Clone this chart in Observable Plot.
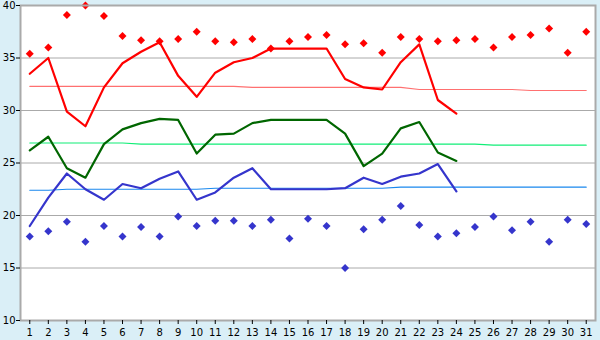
<!DOCTYPE html>
<html>
<head>
<meta charset="utf-8">
<script src="https://cdn.jsdelivr.net/npm/d3@7"></script>
<script src="https://cdn.jsdelivr.net/npm/@observablehq/plot@0.6"></script>
<style>
  html, body { margin: 0; padding: 0; background: #daeff7; }
  #chart svg { display: block; }
</style>
</head>
<body>
<div id="chart"></div>
<script>
const days = d3.range(1, 32);
const maxT = [33.5, 35.0, 29.9, 28.5, 32.2, 34.5, 35.6, 36.5, 33.3, 31.3, 33.6, 34.6, 35.0, 35.9, 35.9, 35.9, 35.9, 33.0, 32.2, 32.0, 34.6, 36.3, 31.0, 29.7];
const avgT = [26.2, 27.5, 24.5, 23.6, 26.8, 28.2, 28.8, 29.2, 29.1, 25.9, 27.7, 27.8, 28.8, 29.1, 29.1, 29.1, 29.1, 27.8, 24.7, 25.9, 28.3, 28.9, 26.0, 25.2];
const minT = [19.0, 21.7, 24.0, 22.5, 21.5, 23.0, 22.6, 23.5, 24.2, 21.5, 22.2, 23.6, 24.5, 22.5, 22.5, 22.5, 22.5, 22.6, 23.6, 23.0, 23.7, 24.0, 24.9, 22.3];
const recMax = [35.4, 36.0, 39.1, 40.0, 39.0, 37.1, 36.7, 36.6, 36.8, 37.5, 36.6, 36.5, 36.8, 35.9, 36.6, 37.0, 37.2, 36.3, 36.4, 35.5, 37.0, 36.8, 36.6, 36.7, 36.8, 36.0, 37.0, 37.2, 37.8, 35.5, 37.5];
const recMin = [18.0, 18.5, 19.4, 17.5, 19.0, 18.0, 18.9, 18.0, 19.9, 19.0, 19.5, 19.5, 19.0, 19.6, 17.8, 19.7, 19.0, 15.0, 18.7, 19.6, 20.9, 19.1, 18.0, 18.3, 18.9, 19.9, 18.6, 19.4, 17.5, 19.6, 19.2];
const normMax = [32.3, 32.3, 32.3, 32.3, 32.3, 32.3, 32.3, 32.3, 32.3, 32.3, 32.3, 32.3, 32.2, 32.2, 32.2, 32.2, 32.2, 32.2, 32.2, 32.2, 32.2, 32.0, 32.0, 32.0, 32.0, 32.0, 32.0, 31.9, 31.9, 31.9, 31.9];
const normAvg = [26.9, 26.9, 26.9, 26.9, 26.9, 26.9, 26.8, 26.8, 26.8, 26.8, 26.8, 26.8, 26.8, 26.8, 26.8, 26.8, 26.8, 26.8, 26.8, 26.8, 26.8, 26.8, 26.8, 26.8, 26.8, 26.7, 26.7, 26.7, 26.7, 26.7, 26.7];
const normMin = [22.4, 22.4, 22.5, 22.5, 22.5, 22.5, 22.5, 22.5, 22.5, 22.5, 22.6, 22.6, 22.6, 22.6, 22.6, 22.6, 22.6, 22.6, 22.6, 22.6, 22.7, 22.7, 22.7, 22.7, 22.7, 22.7, 22.7, 22.7, 22.7, 22.7, 22.7];
const yTicks = [10, 15, 20, 25, 30, 35, 40];
const gridTicks = [15, 20, 25, 30, 35];

const tbl = (vals) => vals.map((v, i) => ({day: days[i], v}));

const chart = Plot.plot({
  width: 600,
  height: 340,
  marginLeft: 20,
  marginRight: 5,
  marginTop: 5,
  marginBottom: 20,
  style: {background: "#daeff7", fontFamily: "DejaVu Sans", fontSize: "10px", color: "#000"},
  x: {domain: [0.5, 31.5], axis: null},
  y: {domain: [10, 40], axis: null},
  marks: [
    Plot.frame({fill: "white", stroke: null}),
    Plot.ruleY(gridTicks, {stroke: "#aaaaaa", strokeWidth: 1}),
    Plot.line(tbl(normMax), {x: "day", y: "v", stroke: "#ff7070", strokeWidth: 1.1}),
    Plot.line(tbl(normAvg), {x: "day", y: "v", stroke: "#11ee77", strokeWidth: 1.1}),
    Plot.line(tbl(normMin), {x: "day", y: "v", stroke: "#1a88ee", strokeWidth: 1.1}),
    Plot.line(tbl(maxT), {x: "day", y: "v", stroke: "#ff0000", strokeWidth: 2.2}),
    Plot.line(tbl(avgT), {x: "day", y: "v", stroke: "#006600", strokeWidth: 2.2}),
    Plot.line(tbl(minT), {x: "day", y: "v", stroke: "#3535cc", strokeWidth: 2.2}),
    Plot.dot(tbl(recMax), {x: "day", y: "v", symbol: "diamond2", r: 3.6, fill: "#ff0000", stroke: null}),
    Plot.dot(tbl(recMin), {x: "day", y: "v", symbol: "diamond2", r: 3.6, fill: "#3535cc", stroke: null}),
    Plot.frame({stroke: "#aaaaaa", strokeWidth: 2}),
    Plot.axisY(yTicks, {tickSize: 4, tickPadding: 1, stroke: "#000", label: null}),
    Plot.axisX(days, {tickSize: 4, tickPadding: 4, stroke: "#000", label: null})
  ]
});
document.getElementById("chart").appendChild(chart);
</script>
</body>
</html>
